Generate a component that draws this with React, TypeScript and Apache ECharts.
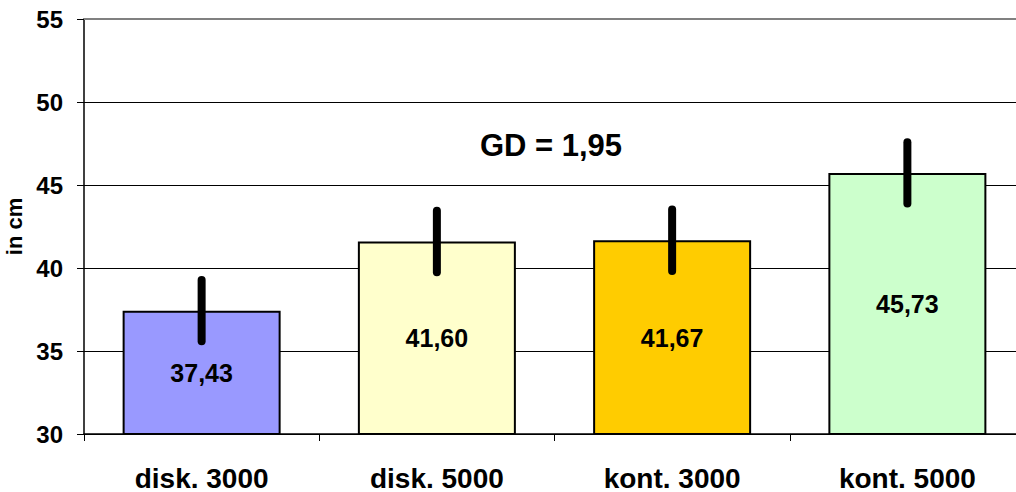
import React, { useEffect, useRef } from "react";
import * as echarts from "echarts";

const categories = ["disk. 3000", "disk. 5000", "kont. 3000", "kont. 5000"];
const values = [37.43, 41.6, 41.67, 45.73];
const errors = [1.85, 1.85, 1.85, 1.85];
const barColors = ["#9999FF", "#FFFFCC", "#FFCC00", "#CCFFCC"];
const yTicks = { min: 30, max: 55, interval: 5 };
const annotation = "GD = 1,95";
const yName = "in cm";

const FONT = "'Liberation Sans', Arial, sans-serif";

export default function App() {
  const ref = useRef<HTMLDivElement>(null);
  useEffect(() => {
    document.body.style.margin = "0";
    document.body.style.overflow = "hidden";
    const chart = echarts.init(ref.current!, null, { renderer: "svg" });
    chart.setOption({
      animation: false,
      backgroundColor: "#ffffff",
      textStyle: { fontFamily: FONT },
      grid: {
        left: 84,
        top: 19,
        width: 941,
        height: 415,
        containLabel: false,
        outerBoundsMode: "none",
      },
      xAxis: [
        {
          type: "category",
          data: categories,
          axisLine: { show: true, lineStyle: { color: "#000", width: 1.5 } },
          axisTick: { show: true, interval: 0, length: 7, lineStyle: { color: "#000", width: 1 } },
          axisLabel: {
            interval: 0,
            margin: 31,
            fontFamily: FONT,
            fontWeight: "bold",
            fontSize: 28,
            lineHeight: 26,
            color: "#000",
          },
          splitLine: { show: false },
        },
        {
          type: "category",
          position: "top",
          data: categories,
          axisLine: { show: true, lineStyle: { color: "#808080", width: 2 } },
          axisTick: { show: false },
          axisLabel: { show: false },
        },
      ],
      yAxis: {
        type: "value",
        min: yTicks.min,
        max: yTicks.max,
        interval: yTicks.interval,
        name: yName,
        nameLocation: "middle",
        nameRotate: 90,
        nameGap: 54,
        nameTextStyle: { fontFamily: FONT, fontWeight: "bold", fontSize: 22, color: "#000" },
        axisLine: { show: true, lineStyle: { color: "#000", width: 1.5 } },
        axisTick: { show: true, length: 7, lineStyle: { color: "#000", width: 1 } },
        axisLabel: {
          margin: 21,
          fontFamily: FONT,
          fontWeight: "bold",
          fontSize: 24,
          color: "#000",
        },
        splitLine: { show: true, lineStyle: { color: "#000", width: 1 } },
      },
      graphic: [
        {
          type: "text",
          x: 551,
          y: 145,
          style: {
            text: annotation,
            fontFamily: FONT,
            fontWeight: "bold",
            fontSize: 31,
            fill: "#000",
            textAlign: "center",
            textVerticalAlign: "middle",
          },
          z: 100,
        },
      ],
      series: [
        {
          type: "bar",
          barWidth: 158,
          data: values.map((v, i) => ({
            value: v,
            itemStyle: { color: barColors[i], borderColor: "#000", borderWidth: 2 },
          })),
          label: {
            show: true,
            position: "inside",
            fontFamily: FONT,
            fontWeight: "bold",
            fontSize: 25,
            color: "#000",
            formatter: (p: any) => Number(p.value).toFixed(2).replace(".", ","),
          },
          z: 2,
        },
        {
          type: "custom",
          data: values.map((v, i) => [i, v, errors[i]]),
          renderItem: (params: any, api: any) => {
            const i = api.value(0);
            const v = api.value(1);
            const e = api.value(2);
            const p1 = api.coord([i, v + e]);
            const p2 = api.coord([i, v - e]);
            return {
              type: "line",
              shape: { x1: p1[0], y1: p1[1], x2: p2[0], y2: p2[1] },
              style: { stroke: "#000", lineWidth: 8, lineCap: "round" },
            };
          },
          z: 10,
        },
      ],
    });
    return () => chart.dispose();
  }, []);
  return (
    <div style={{ width: 1016, height: 492, overflow: "hidden" }}>
      <div ref={ref} style={{ width: 1040, height: 492 }} />
    </div>
  );
}
